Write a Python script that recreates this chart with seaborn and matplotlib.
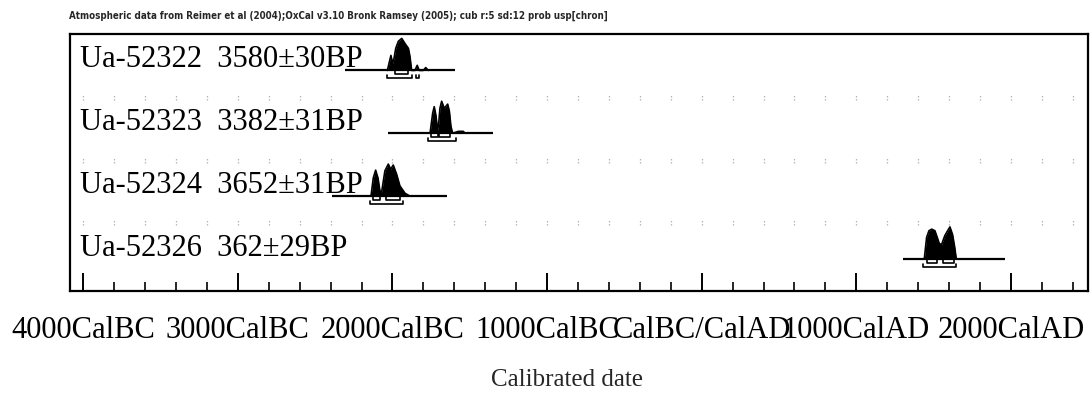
import matplotlib
matplotlib.use("Agg")
import matplotlib.pyplot as plt
import matplotlib.transforms as mtransforms
from matplotlib.ticker import MultipleLocator, FixedLocator
import seaborn as sns

# ---- data -------------------------------------------------------------
sample_labels = [
    "Ua-52322  3580\u00b130BP",
    "Ua-52323  3382\u00b131BP",
    "Ua-52324  3652\u00b131BP",
    "Ua-52326  362\u00b129BP",
]

# calibrated probability distributions (calendar year, negative = BC; relative probability)
ua52322_years = [-2033, -2021, -2010, -1999, -1990, -1979, -1962, -1940, -1919,
                 -1897, -1887, -1876, -1855, -1840, -1827, -1801, -1785, -1768]
ua52322_prob = [0, .25, .47, .22, .38, .69, .91, 1.0, .84, .69, .44, 0, 0, .16, 0, 0, .09, 0]

ua52323_years = [-1757, -1740, -1730, -1719, -1708, -1701, -1693, -1682, -1665,
                 -1643, -1632, -1622, -1611, -1574, -1542, -1531]
ua52323_prob = [0, .63, .83, .56, .09, .31, .78, 1.0, .78, .91, .69, .22, 0, .06, .06, 0]

ua52324_years = [-2139, -2124, -2109, -2094, -2081, -2070, -2049, -2027, -2012,
                 -1995, -1973, -1952, -1919, -1887]
ua52324_prob = [0, .57, .81, .57, .16, .13, .79, 1.0, .84, .97, .68, .32, .09, 0]

ua52326_years = [1440, 1455, 1470, 1488, 1509, 1524, 1537, 1552, 1573, 1591,
                 1606, 1623, 1637, 1647]
ua52326_prob = [0, .67, .88, .93, .88, .67, .48, .45, .73, .88, 1.0, .76, .36, 0]

curve_years = [ua52322_years, ua52323_years, ua52324_years, ua52326_years]
curve_probs = [ua52322_prob, ua52323_prob, ua52324_prob, ua52326_prob]

# span of each calibrated range line
range_start = [-2307, -2029, -2392, 1302]
range_end = [-1596, -1350, -1648, 1962]

# highest posterior density ranges
hpd68 = [[(-1984, -1897)],
         [(-1753, -1704), (-1697, -1628)],
         [(-2124, -2081), (-2044, -1952)],
         [(1455, 1524), (1563, 1632)]]
hpd95 = [[(-2037, -1876), (-1848, -1831)],
         [(-1768, -1589)],
         [(-2146, -1930)],
         [(1430, 1645)]]

tick_years = [-4000, -3000, -2000, -1000, 0, 1000, 2000]
tick_labels = ["4000CalBC", "3000CalBC", "2000CalBC", "1000CalBC",
               "CalBC/CalAD", "1000CalAD", "2000CalAD"]

header = ("Atmospheric data from Reimer et al (2004);OxCal v3.10 Bronk Ramsey (2005); "
          "cub r:5 sd:12 prob usp[chron]")

# ---- figure -------------------------------------------------------------
sns.set_style("white")
plt.rcParams["font.family"] = ["Liberation Serif", "DejaVu Serif"]

W, H = 1091, 396
fig = plt.figure(figsize=(W / 100, H / 100), dpi=100)
ax = fig.add_axes([70 / W, 105 / H, 1018 / W, 257 / H])

ax.set_xlim(-4086, 2499)
ax.set_ylim(0, 4.09)

row_base = [3.51, 2.51, 1.51, 0.51]
peak_h = 0.51
off68 = 4 / 62.8
off95 = 8 / 62.8
blend = mtransforms.blended_transform_factory(ax.transAxes, ax.transData)

for i in range(4):
    b = row_base[i]
    xs = curve_years[i]
    ys = [b + p * peak_h for p in curve_probs[i]]
    ax.fill_between(xs, b, ys, color="black", lw=0)
    sns.lineplot(x=xs, y=ys, ax=ax, color="black", lw=1.2, sort=False,
                 estimator=None, legend=False)
    ax.hlines(b, range_start[i], range_end[i], color="black", lw=1.6)
    for lo, hi in hpd68[i]:
        ax.plot([lo, lo, hi, hi], [b, b - off68, b - off68, b], color="black", lw=1.2)
    for lo, hi in hpd95[i]:
        ax.plot([lo, lo, hi, hi], [b - off95 + 0.05, b - off95, b - off95, b - off95 + 0.05],
                color="black", lw=1.2)
    ax.text(0.0098, b + 3 / 62.8, sample_labels[i], transform=blend,
            fontsize=22, va="baseline", ha="left", color="black")

# faint dotted separators between rows at every minor tick
sep_x = list(range(-4000, 2401, 200))
for ysep in [3.09, 2.086, 1.099]:
    ax.vlines(sep_x, ysep - 0.05, ysep + 0.05, colors="#a8a8a8", lw=0.9,
              linestyles=(0, (1, 1.5)))

# axis ticks
ax.xaxis.set_major_locator(FixedLocator(tick_years))
ax.xaxis.set_minor_locator(MultipleLocator(200))
ax.set_xticklabels(tick_labels)
ax.set_yticks([])
ax.tick_params(axis="x", which="major", direction="in", length=13, width=1.4,
               bottom=True, top=False, labelsize=22, pad=18, colors="black")
ax.tick_params(axis="x", which="minor", direction="in", length=6.5, width=1.4,
               bottom=True, top=False)

for s in ax.spines.values():
    s.set_color("black")
    s.set_linewidth(1.6)

ax.set_xlabel("Calibrated date", fontsize=18)
ax.xaxis.set_label_coords(0.488, -0.305)
ax.xaxis.label.set_va("top")

fig.text(69 / W, 1 - 19 / H, header, fontsize=7.0, fontweight="bold",
         family="DejaVu Sans", fontstretch="condensed", va="baseline", ha="left")

fig.savefig("out.png", dpi=100)
